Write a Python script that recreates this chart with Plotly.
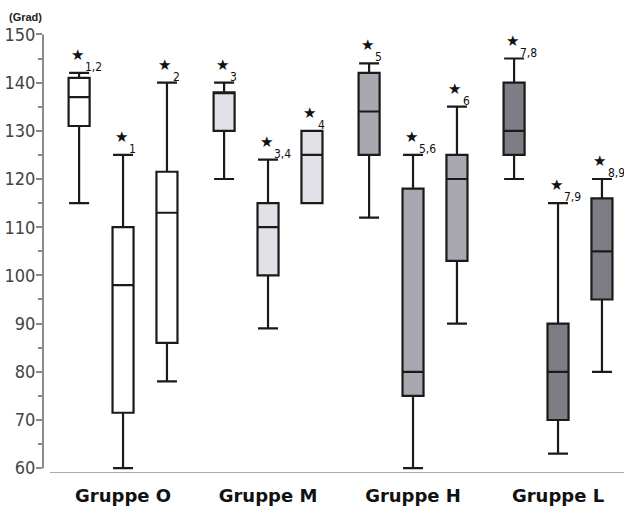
import plotly.graph_objects as go

groups = ["Gruppe O", "Gruppe M", "Gruppe H", "Gruppe L"]
lower = [[115, 60, 78], [120, 89, 115], [112, 60, 90], [120, 63, 80]]
q1 = [[131, 71.5, 86], [130, 100, 115], [125, 75, 103], [125, 70, 95]]
median = [[137, 98, 113], [138, 110, 125], [134, 80, 120], [130, 80, 105]]
q3 = [[141, 110, 121.5], [138, 115, 130], [142, 118, 125], [140, 90, 116]]
upper = [[142, 125, 140], [140, 124, 130], [144, 125, 135], [145, 115, 120]]
labels = [["1,2", "1", "2"], ["3", "3,4", "4"], ["5", "5,6", "6"], ["7,8", "7,9", "8,9"]]
y_ticks = [60, 70, 80, 90, 100, 110, 120, 130, 140, 150]

fills = ["#ffffff", "#e3e1e8", "#a9a8b0", "#7e7d85"]
offsets = [-0.303, 0.0, 0.303]

fig = go.Figure()
annotations = []
for g, name in enumerate(groups):
    xs = [g + o for o in offsets]
    fig.add_trace(go.Box(
        x=xs, q1=q1[g], median=median[g], q3=q3[g],
        lowerfence=lower[g], upperfence=upper[g],
        width=0.145, whiskerwidth=0.95,
        fillcolor=fills[g], line=dict(color="#1a1a1a", width=2.2),
        boxpoints=False, showlegend=False, name=name,
    ))
    for i in range(3):
        annotations.append(dict(
            x=xs[i], y=upper[g][i], xref="x", yref="y", text="★",
            showarrow=False, xanchor="center", yanchor="middle", xshift=-2, yshift=18,
            font=dict(family="DejaVu Sans", size=15, color="#111"),
        ))
        annotations.append(dict(
            x=xs[i], y=upper[g][i], xref="x", yref="y", text=labels[g][i],
            showarrow=False, xanchor="left", yanchor="bottom", xshift=4, yshift=-3,
            font=dict(family="DejaVu Sans Condensed, Liberation Sans Narrow, Arial", size=12, color="#111"),
        ))

annotations.append(dict(
    x=0, y=1, xref="paper", yref="paper", text="<b>(Grad)</b>", showarrow=False,
    xanchor="left", yanchor="middle", xshift=-36, yshift=15,
    font=dict(family="Arial", size=11, color="#222"),
))

fig.update_layout(
    width=624, height=508,
    margin=dict(l=43, r=0, t=32, b=35),
    paper_bgcolor="white", plot_bgcolor="white",
    annotations=annotations,
    shapes=[
        dict(type="line", xref="paper", yref="y", x0=0, x1=0, y0=60, y1=150,
             line=dict(color="#8a8a8a", width=2)),
        dict(type="line", xref="paper", yref="y", x0=0.012, x1=1, y0=59, y1=59,
             line=dict(color="#aaaaaa", width=2)),
    ],
    xaxis=dict(
        range=[-0.552, 3.455], tickvals=list(range(len(groups))), ticktext=groups,
        showgrid=False, zeroline=False, showline=False, ticks="",
        ticklabelstandoff=10,
        tickfont=dict(family="DejaVu Sans", size=18, color="#111", weight="bold"),
    ),
    yaxis=dict(
        range=[59, 150.5], tickvals=y_ticks, showgrid=False, zeroline=False,
        showline=False, ticks="outside", ticklen=6, tickwidth=1.5, tickcolor="#8a8a8a",
        ticklabelstandoff=-3,
        minor=dict(dtick=5, ticks="outside", ticklen=4, tickcolor="#8a8a8a", tickwidth=1.5, showgrid=False),
        tickfont=dict(family="DejaVu Sans Condensed, Liberation Sans Narrow, Arial Narrow", size=18, color="#444"),
    ),
)

fig.write_html("out.html")
